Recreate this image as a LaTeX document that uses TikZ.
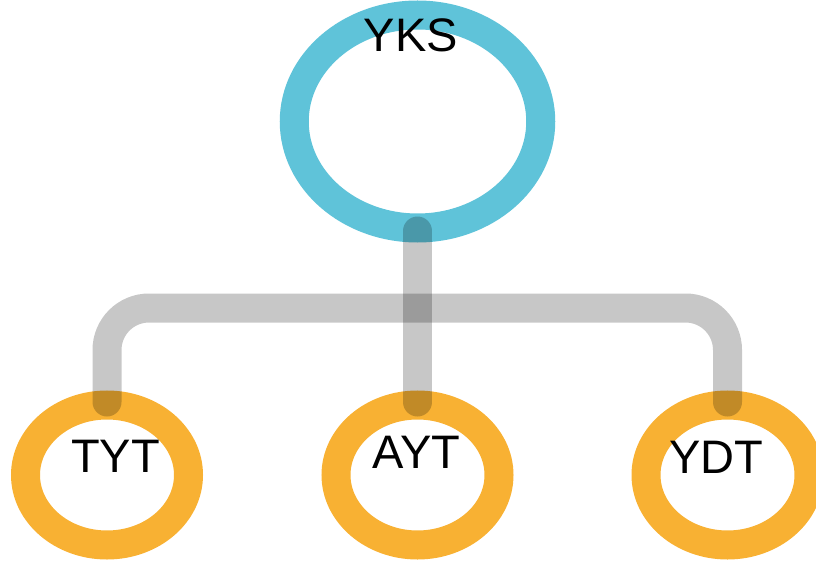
\documentclass[tikz,border=0pt]{standalone}
\usepackage{fontspec}
\setmainfont{Liberation Sans}
\usetikzlibrary{shapes.geometric}
\definecolor{ringblue}{HTML}{5FC3D9}
\definecolor{ringorange}{HTML}{F8B133}
\tikzset{
  ring/.style={ellipse, draw=#1, line width=29pt, inner sep=0pt, outer sep=0pt},
  bigring/.style={ring=ringblue, minimum width=246.5pt, minimum height=213pt},
  smallring/.style={ring=ringorange, minimum width=163pt, minimum height=140pt},
  lbl/.style={anchor=base, inner sep=0pt, font=\fontsize{47}{56}\selectfont, text=black},
  conn/.style={draw=black, draw opacity=0.22, line width=29pt, line cap=round,
               shorten <=3pt, shorten >=3pt}
}
\begin{document}
\begin{tikzpicture}[x=1pt,y=-1pt]
\useasboundingbox (0,0) rectangle (816,564);
\clip (0,0) rectangle (816,564);
\node[bigring] (yks) at (417.5,121.5) {};
\node[smallring] (tyt) at (107,475) {};
\node[smallring] (ayt) at (417.5,475) {};
\node[smallring] (ydt) at (727.5,475) {};
\coordinate (bus) at (417.5,308);
\draw[conn] (yks.south) -- (ayt.north);
\draw[conn, rounded corners=42pt] (tyt.north) |- (bus) -| (ydt.north);
\node[lbl] (yksl) at (411,52) {YKS};
\node[lbl] (tytl) at (115.5,472) {TYT};
\node[lbl] (aytl) at (416.5,468) {AYT};
\node[lbl] (ydtl) at (716.5,473) {YDT};
\end{tikzpicture}
\end{document}
